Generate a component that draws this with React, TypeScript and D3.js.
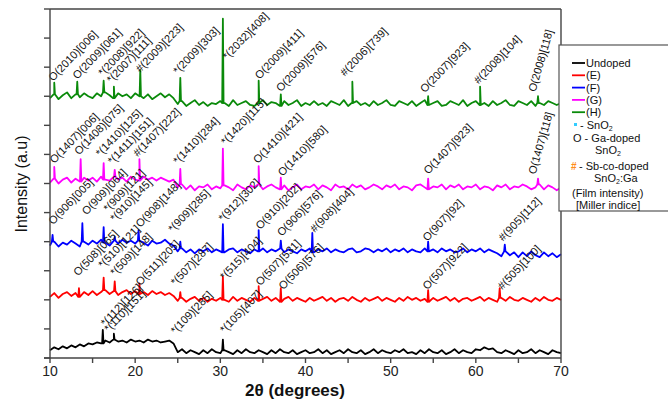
import React from "react";
import * as d3 from "d3";

const W = 668;
const H = 414;

// 2θ grid: 10..70 step 0.5
const thetaStart = 10;
const thetaStep = 0.5;

// baselines (a.u., stacked offsets included), one value per 0.5°
const undoped = [
  8, 11, 9, 12, 10, 13, 11, 14, 12, 15,
  14, 16, 15, 18, 16, 19, 17, 18, 16, 19,
  17, 18, 16, 19, 17, 18, 16, 17, 18, 15,
  6, 9, 5, 8, 6, 4, 8, 5, 9, 6,
  5, 8, 6, 4, 8, 5, 9, 6, 5, 8,
  6, 4, 8, 5, 9, 6, 5, 8, 4, 6,
  8, 5, 6, 9, 5, 8, 4, 6, 8, 5,
  9, 6, 5, 8, 4, 6, 9, 5, 8, 6,
  5, 8, 6, 9, 5, 6, 4, 8, 5, 9,
  6, 5, 8, 4, 6, 9, 5, 8, 6, 5,
  9, 8, 11, 9, 10, 6, 5, 8, 6, 4,
  8, 5, 6, 9, 5, 8, 6, 4, 8, 6,
  5,
];
const sampleE = [
  63, 67, 62, 66, 68, 64, 67, 63, 68, 65,
  69, 65, 68, 70, 66, 69, 65, 68, 70, 66,
  69, 66, 68, 65, 69, 66, 68, 65, 67, 64,
  59, 62, 58, 61, 63, 59, 62, 58, 61, 59,
  62, 60, 58, 63, 59, 62, 60, 58, 62, 59,
  61, 63, 59, 62, 58, 61, 63, 59, 62, 60,
  58, 62, 59, 61, 63, 59, 62, 58, 61, 62,
  59, 63, 60, 58, 62, 59, 61, 63, 59, 62,
  60, 58, 62, 59, 63, 60, 62, 59, 61, 58,
  62, 59, 61, 63, 59, 62, 58, 61, 62, 59,
  61, 63, 59, 62, 60, 58, 62, 59, 63, 60,
  59, 62, 60, 58, 62, 59, 63, 60, 59, 62,
  60,
];
const sampleF = [
  116, 120, 115, 119, 117, 121, 118, 115, 120, 117,
  121, 118, 122, 119, 116, 121, 118, 122, 119, 121,
  118, 121, 119, 116, 121, 118, 119, 122, 118, 116,
  110, 113, 109, 112, 108, 112, 110, 113, 109, 112,
  110, 109, 112, 113, 109, 112, 110, 108, 112, 110,
  113, 109, 112, 110, 113, 109, 112, 110, 108, 112,
  110, 113, 109, 112, 110, 113, 109, 112, 110, 109,
  112, 113, 109, 110, 113, 112, 109, 112, 110, 113,
  109, 112, 110, 113, 109, 112, 110, 109, 113, 110,
  112, 109, 113, 110, 112, 109, 110, 113, 109, 112,
  110, 113, 109, 112, 110, 108, 105, 110, 106, 109,
  104, 109, 105, 110, 106, 104, 109, 105, 108, 104,
  107,
];
const sampleG = [
  181, 185, 180, 184, 186, 181, 185, 182, 186, 183,
  186, 182, 187, 184, 183, 187, 184, 186, 182, 187,
  184, 183, 187, 184, 186, 183, 186, 184, 182, 184,
  176, 179, 174, 178, 173, 177, 176, 179, 174, 177,
  175, 178, 176, 173, 179, 176, 174, 178, 176, 179,
  174, 177, 179, 176, 174, 178, 173, 176, 179, 174,
  177, 176, 179, 174, 178, 176, 173, 179, 176, 177,
  174, 179, 176, 178, 174, 176, 179, 177, 174, 178,
  176, 179, 174, 177, 176, 173, 178, 179, 176, 174,
  177, 176, 179, 174, 178, 176, 179, 174, 177, 176,
  179, 174, 177, 176, 173, 178, 176, 179, 174, 177,
  176, 179, 177, 174, 176, 179, 174, 178, 176, 173,
  176,
];
const sampleH = [
  268, 272, 267, 271, 274, 268, 272, 269, 273, 270,
  268, 273, 270, 274, 271, 268, 273, 270, 272, 268,
  273, 270, 268, 272, 267, 270, 273, 269, 272, 268,
  262, 265, 260, 263, 266, 261, 264, 260, 263, 262,
  265, 263, 260, 266, 261, 263, 265, 261, 260, 263,
  266, 261, 264, 263, 260, 265, 261, 263, 266, 260,
  263, 261, 265, 261, 263, 260, 265, 263, 261, 266,
  260, 263, 265, 261, 263, 260, 265, 261, 263, 266,
  261, 260, 265, 263, 261, 265, 260, 263, 266, 261,
  263, 265, 260, 261, 265, 263, 261, 266, 260, 263,
  265, 261, 263, 260, 265, 261, 263, 266, 261, 260,
  265, 263, 261, 265, 260, 263, 261, 265, 263, 261,
  263,
];

// peaks: [2θ, top intensity]
const peaksUndoped = [[16.2, 29], [17.5, 25], [30.3, 19]];
const peaksE = [[13.4, 72], [16.3, 83], [17.6, 79], [20.5, 77], [25.3, 68], [30.3, 84], [34.5, 74], [37.1, 72], [54.4, 70], [62.8, 72]];
const peaksF = [[10.3, 127], [13.8, 139], [16.3, 135], [17.6, 125], [20.4, 132], [25.3, 120], [30.3, 138], [34.5, 132], [37.1, 121], [40.8, 129], [54.4, 120], [63.4, 117]];
const peaksG = [[10.5, 197], [13.6, 205], [16.3, 201], [17.6, 194], [20.5, 205], [25.3, 195], [30.3, 216], [34.5, 198], [37.1, 186], [54.4, 185], [67.3, 185]];
const peaksH = [[10.5, 284], [13.2, 285], [16.3, 286], [17.5, 280], [20.6, 297], [25.3, 289], [30.3, 350], [34.5, 286], [37.1, 272], [45.5, 285], [54.4, 270], [60.5, 280], [67.3, 270]];

// labels: [text, 2θ, level, angle]
const labelsUndoped = [
  ["*(112)[126]", 16.5, 32, -46], ["*(110)[151]", 16.9, 26, -46],
  ["*(109)[285]", 24.7, 24, -46], ["*(105)[407]", 30.5, 25, -46],
];
const labelsE = [
  ["O(508)[065]", 13.3, 84, -46], ["*(510)[121]", 16.2, 92, -46], ["*(509)[148]", 17.6, 84, -46],
  ["O(511)[205]", 20.6, 74, -46], ["*(507)[287]", 24.7, 74, -46], ["*(515)[404]", 30.5, 80, -46],
  ["O(507)[531]", 34.7, 74, -46], ["O(506)[576]", 37.4, 70, -46], ["O(507)[922]", 54.3, 70, -46],
  ["#(505)[100]", 63.1, 70, -46],
];
const labelsF = [
  ["O(906)[005]", 10.35, 137, -46], ["O(909)[064]", 14.3, 147, -46], ["*(909)[121]", 16.8, 150, -46],
  ["*(910)[145]", 17.6, 140, -46], ["O(908)[148]", 20.6, 134, -46], ["*(909)[285]", 24.4, 129, -46],
  ["*(912)[302]", 30.3, 140, -46], ["O(910)[202]", 34.7, 132, -46], ["O(906)[576]", 37.2, 125, -46],
  ["#(908)[404]", 41.1, 129, -46], ["O(907)[92]", 54.3, 120, -46], ["#(905)[112]", 63.2, 120, -46],
];
const labelsG = [
  ["O(1407)[006]", 10.5, 200, -46], ["O(1408)[075]", 13.4, 209, -46], ["*(1410)[125]", 15.9, 207, -46],
  ["*(1411)[151]", 17.3, 199, -46], ["#(1407)[222]", 20.3, 207, -46], ["*(1410)[284]", 25.0, 199, -46],
  ["*(1420)[115]", 30.6, 219, -46], ["O(1410)[421]", 34.4, 200, -46], ["O(1410)[580]", 37.3, 187, -46],
  ["O(1407)[923]", 54.4, 189, -46], ["O(1407)[118]", 67.0, 189, -74],
];
const labelsH = [
  ["O(2010)[006]", 10.35, 285, -46], ["O(2009)[061]", 13.2, 287, -46], ["*(2008)[922]", 16.2, 290, -46],
  ["*(2007)[111]", 17.2, 283, -46], ["#(2009)[223]", 20.6, 294, -46], ["*(2009)[303]", 25.0, 292, -46],
  ["*(2032)[408]", 30.8, 307, -46], ["O(2009)[411]", 34.6, 287, -46], ["O(2009)[576]", 37.1, 274, -46],
  ["#(2006)[739]", 44.6, 290, -46], ["O(2007)[923]", 54.0, 273, -46], ["#(2008)[104]", 60.3, 282, -46],
  ["O(2008)[118]", 67.0, 274, -74],
];

const xTicks = [10, 15, 20, 25, 30, 35, 40, 45, 50, 55, 60, 65, 70];
const xTickLabels = [10, 20, 30, 40, 50, 60, 70];
const yTicks = d3.range(0, 361, 30);

const series = [
  { name: "Undoped", color: "#000000", base: undoped, peaks: peaksUndoped, labels: labelsUndoped },
  { name: "(E)", color: "#ff0000", base: sampleE, peaks: peaksE, labels: labelsE },
  { name: "(F)", color: "#0000ff", base: sampleF, peaks: peaksF, labels: labelsF },
  { name: "(G)", color: "#ff00ff", base: sampleG, peaks: peaksG, labels: labelsG },
  { name: "(H)", color: "#0a8a0a", base: sampleH, peaks: peaksH, labels: labelsH },
];

const x = d3.scaleLinear().domain([10, 70]).range([50, 561]);
const y = d3.scaleLinear().domain([0, 360]).range([358, 9]);

function tracePoints(base: number[], peaks: number[][]) {
  const pts = base.map((v, i) => [thetaStart + i * thetaStep, v]);
  peaks.forEach(([t, top]) => {
    const i = Math.min(Math.round((t - thetaStart) / thetaStep), base.length - 1);
    const b = base[i];
    pts.push([t - 0.08, b], [t, top], [t + 0.08, b]);
  });
  return pts.sort((a, b) => a[0] - b[0]);
}

const line = d3
  .line<number[]>()
  .x((d) => x(d[0]))
  .y((d) => y(d[1]));

const font = "Arial, 'Liberation Sans', sans-serif";

export default function App() {
  return (
    <svg
      width={W}
      height={H}
      style={{ position: "absolute", left: 0, top: 0, background: "#fff" }}
      fontFamily={font}
    >
      {/* traces */}
      {series.map((s) => (
        <path
          key={s.name}
          d={line(tracePoints(s.base, s.peaks)) || ""}
          fill="none"
          stroke={s.color}
          strokeWidth={1.8}
          strokeLinejoin="round"
        />
      ))}

      {/* peak labels */}
      {series.map((s) =>
        s.labels.map((l, i) => (
          <text
            key={s.name + i}
            transform={`translate(${x(l[1] as number)},${y(l[2] as number)}) rotate(${l[3]})`}
            fontSize={11}
            fill="#111"
          >
            {l[0]}
          </text>
        ))
      )}

      {/* frame */}
      <g stroke="#444" strokeWidth={1.4} fill="none">
        <line x1={50} y1={y(360)} x2={561} y2={y(360)} />
        <line x1={561} y1={y(360)} x2={561} y2={y(0)} />
        <line x1={50} y1={y(360)} x2={50} y2={y(0)} />
        <line x1={44} y1={y(0)} x2={561} y2={y(0)} />
        {yTicks.map((t) => (
          <line key={t} x1={44} x2={50} y1={y(t)} y2={y(t)} />
        ))}
        {xTicks.map((t) => (
          <line key={t} x1={x(t)} x2={x(t)} y1={y(0)} y2={y(0) + 5} />
        ))}
      </g>
      {xTickLabels.map((t) => (
        <text key={t} x={x(t)} y={y(0) + 18} fontSize={14} textAnchor="middle" fill="#222">
          {t}
        </text>
      ))}
      <text x={295} y={y(0) + 38} fontSize={17} fontWeight="bold" textAnchor="middle" fill="#111">
        2θ (degrees)
      </text>
      <text
        transform={`translate(27,184) rotate(-90)`}
        fontSize={16}
        textAnchor="middle"
        fill="#111"
      >
        Intensity (a.u)
      </text>

      {/* legend */}
      <g>
        <rect x={559} y={45} width={120} height={166} fill="#fff" stroke="#555" strokeWidth={1.2} />
        {series.map((s, i) => (
          <g key={s.name}>
            <line x1={572} x2={585} y1={63 + i * 12.3} y2={63 + i * 12.3} stroke={s.color} strokeWidth={1.8} />
            <text x={586} y={67 + i * 12.3} fontSize={11} fill="#111">
              {s.name}
            </text>
          </g>
        ))}
        <rect x={574} y={123} width={3} height={3} fill="#33ccff" />
        <text x={580} y={129} fontSize={11} fill="#111">
          - SnO<tspan fontSize={7} dy={2}>2</tspan>
        </text>
        <text x={573} y={142} fontSize={11} fill="#111">O - Ga-doped</text>
        <text x={595} y={154} fontSize={11} fill="#111">
          SnO<tspan fontSize={7} dy={2}>2</tspan>
        </text>
        <text x={571} y={170} fontSize={10} fill="#ff8c1a" fontWeight="bold">#</text>
        <text x={579} y={170} fontSize={11} fill="#111">- Sb-co-doped</text>
        <text x={594} y={182} fontSize={11} fill="#111">
          SnO<tspan fontSize={7} dy={2}>2</tspan>
          <tspan dy={-2}>:Ga</tspan>
        </text>
        <text x={572} y={197} fontSize={11} fill="#111">(Film intensity)</text>
        <text x={576} y={209} fontSize={11} fill="#111">[Miller indice]</text>
      </g>
    </svg>
  );
}
